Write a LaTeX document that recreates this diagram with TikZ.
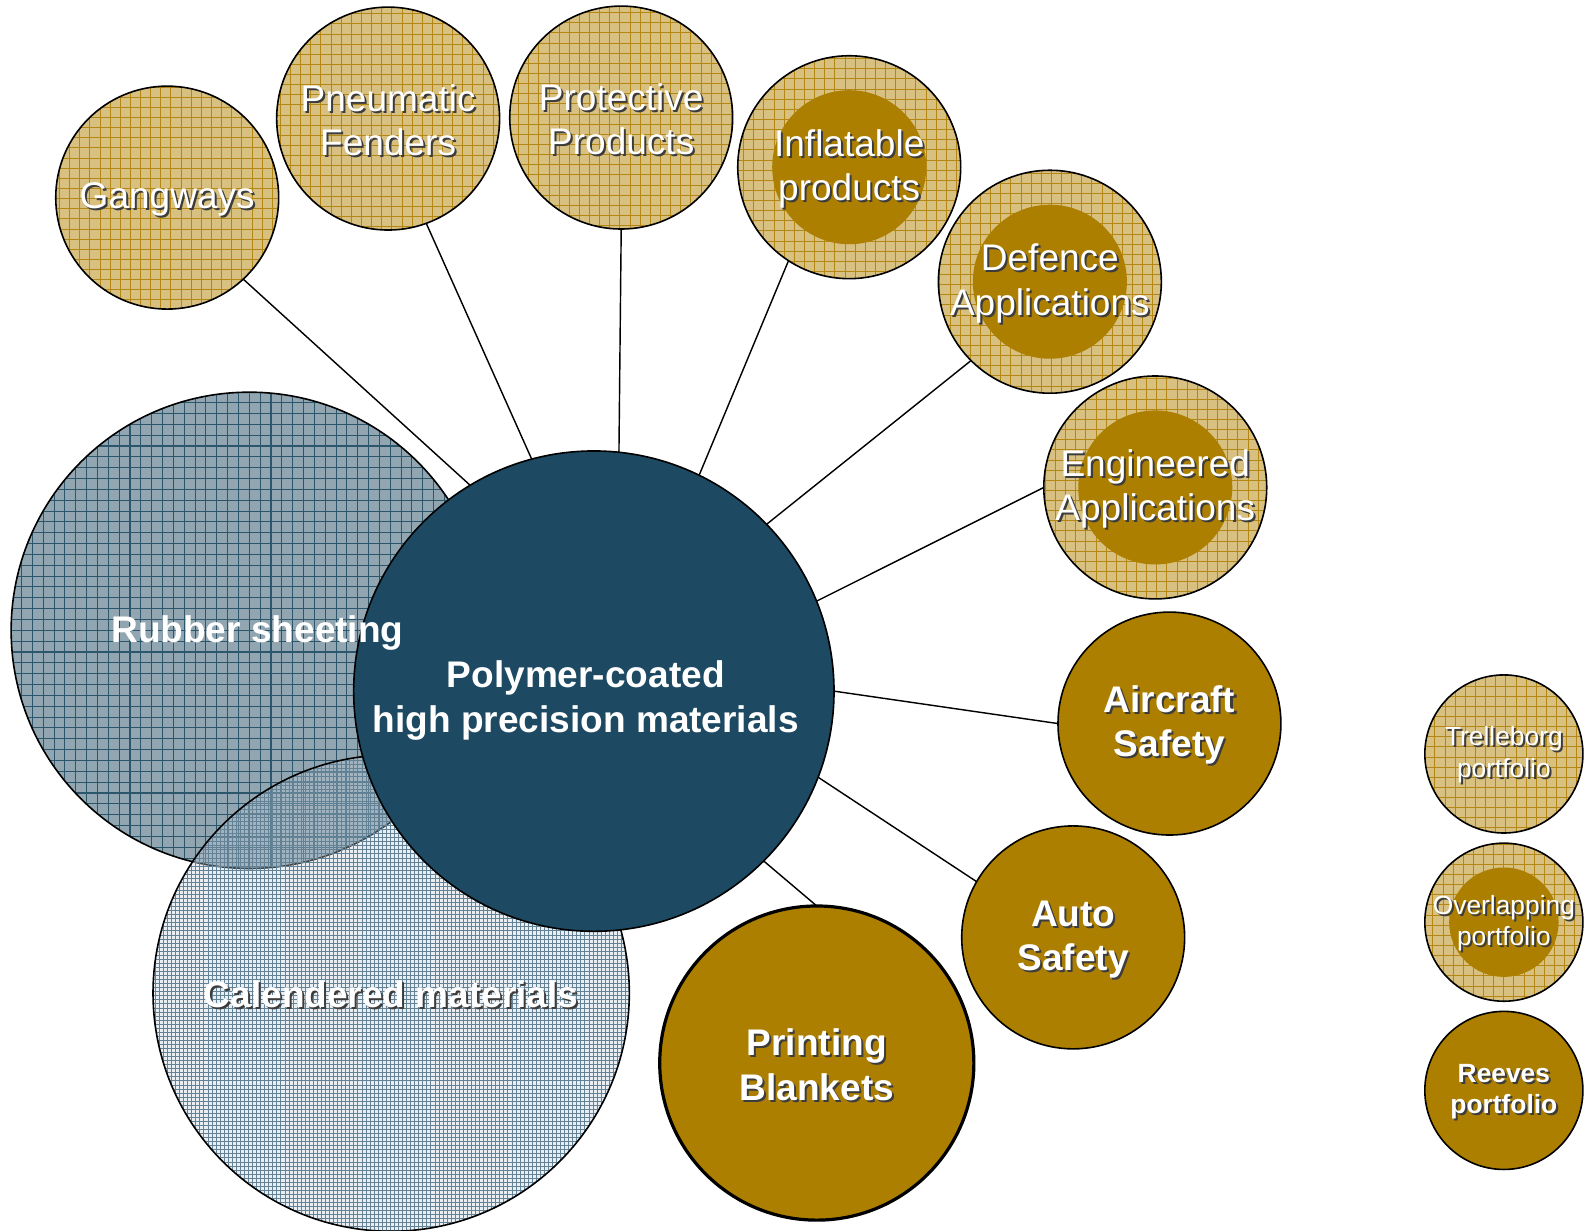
\documentclass[tikz,border=0pt]{standalone}
\usepackage{fontspec}
\setmainfont{Liberation Sans}

\definecolor{tanbg}{RGB}{216,192,128}
\definecolor{tanline}{RGB}{180,134,20}
\definecolor{goldbg}{RGB}{173,127,0}
\definecolor{polyblue}{RGB}{29,74,98}
\definecolor{rubberbg}{RGB}{146,166,177}
\definecolor{rubberline}{RGB}{44,86,108}
\definecolor{calbg}{RGB}{190,205,215}
\definecolor{calline}{RGB}{100,130,150}
\definecolor{shadowgray}{RGB}{60,60,60}

% white label with a small drop shadow
\newcommand{\shd}[1]{\rule{0pt}{0.86em}\makebox[0pt][l]{\kern0.2mm\raisebox{-0.2mm}{\textcolor{shadowgray}{#1}}}#1}

\begin{document}
\begin{tikzpicture}[
      x=0.1mm,
      y=-0.1mm,
      ball/.style={
                circle,
                draw=black,
                line width=0.45pt,
                outer sep=0pt,
                inner sep=0pt,
                text=white,
                align=center,
                minimum size=22mm
                },
      tanball/.style={
                ball,
                fill=tanbg,
                path picture={\draw[tanline, line width=0.25pt, step=1mm]
                  (path picture bounding box.south west) grid (path picture bounding box.north east);}
                },
      mixball/.style={
                ball,
                fill=tanbg,
                path picture={\draw[tanline, line width=0.25pt, step=1mm]
                  (path picture bounding box.south west) grid (path picture bounding box.north east);
                  \fill[goldbg] (path picture bounding box.center) circle[radius=#1];}
                },
      goldball/.style={ball, fill=goldbg},
      rubberball/.style={
                ball,
                minimum size=47mm,
                fill=rubberbg,
                path picture={\draw[rubberline, line width=0.3pt, step=1.07mm]
                  (path picture bounding box.south west) grid (path picture bounding box.north east);}
                },
      calball/.style={
                ball,
                minimum size=47mm,
                fill=calbg,
                fill opacity=0.35,
                text opacity=1,
                path picture={\draw[calline, line width=0.2pt, step=0.4mm]
                  (path picture bounding box.south west) grid (path picture bounding box.north east);}
                },
      link/.style={draw=black, line width=0.4pt},
      big/.style={font=\fontsize{10.4}{12.5}\selectfont},
      bigbold/.style={font=\fontsize{10.4}{12.5}\selectfont\bfseries},
      small/.style={font=\fontsize{7.4}{8.8}\selectfont},
      smallbold/.style={font=\fontsize{7.4}{8.8}\selectfont\bfseries}
]

\useasboundingbox (0,0) rectangle (1568,1214);

% core group
\node[rubberball] (rubber) at (246,622) {};
\node[calball, bigbold] (calendered) at (386,980) {\shd{Calendered materials}};
\node[ball, minimum size=47.4mm, fill=polyblue] (poly) at (586,682) {};
\node[bigbold, text=white, align=center] (polytxt) at (578,691) {Polymer-coated\\high precision materials};
\node[bigbold, text=white] (rubbertxt) at (254,625) {Rubber sheeting};

% satellites
\node[tanball, big] (gangways) at (165,195) {\shd{Gangways}};
\node[tanball, big] (fenders) at (383,117) {\shd{Pneumatic}\\\shd{Fenders}};
\node[tanball, big] (protective) at (613,116) {\shd{Protective}\\\shd{Products}};
\node[mixball=7.6mm, big] (inflatable) at (838,165) {\shd{Inflatable}\\\shd{products}};
\node[mixball=7.6mm, big] (defence) at (1036,278) {\shd{Defence}\\\shd{Applications}};
\node[mixball=7.6mm, big] (engineered) at (1140,481) {\shd{Engineered}\\\shd{Applications}};
\node[goldball, bigbold] (aircraft) at (1154,714) {\shd{Aircraft}\\\shd{Safety}};
\node[goldball, bigbold] (auto) at (1059,925) {\shd{Auto}\\\shd{Safety}};
\node[goldball, bigbold, minimum size=31mm, line width=0.9pt] (printing) at (806,1049) {\shd{Printing}\\\shd{Blankets}};

\draw[link] (gangways.-47) -- (poly.121.5);
\draw[link] (fenders.-70) -- (poly.105);
\draw[link] (protective.-90) -- (poly.84);
\draw[link] (inflatable.-123) -- (poly.64.5);
\draw[link] (defence.-135) -- (poly.44.7);
\draw[link] (engineered.180) -- (poly.22);
\draw[link] (aircraft.180) -- (poly.0);
\draw[link] (auto.150) -- (poly.-21);
\draw[link] (printing.90) -- (poly.-45);

% legend
\node[tanball, small, minimum size=15.6mm] (trelleborg) at (1484,744) {\shd{Trelleborg}\\\shd{portfolio}};
\node[mixball=5.4mm, small, minimum size=15.6mm] (overlapping) at (1484,910) {\shd{Overlapping}\\\shd{portfolio}};
\node[goldball, smallbold, minimum size=15.6mm] (reeves) at (1484,1076) {\shd{Reeves}\\\shd{portfolio}};

\end{tikzpicture}
\end{document}
